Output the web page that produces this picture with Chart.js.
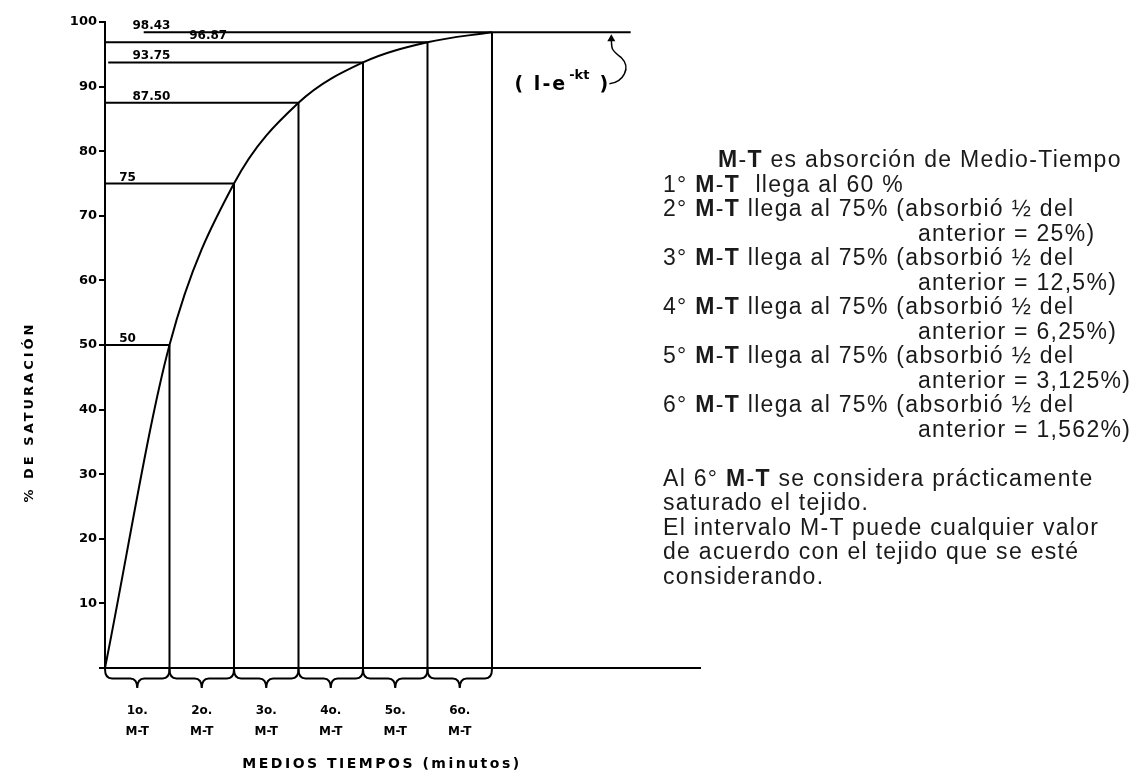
<!DOCTYPE html>
<html>
<head>
<meta charset="utf-8">
<script src="https://cdn.jsdelivr.net/npm/chart.js@4.4.0/dist/chart.umd.min.js"></script>
<style>
  html, body { margin: 0; padding: 0; background: #fff; }
  #wrap { position: relative; width: 1135px; height: 774px; overflow: hidden; }
  #chart { position: absolute; left: 0; top: 0; }
  #notes div {
    position: absolute;
    white-space: pre;
    font-family: "Liberation Sans", Arial, sans-serif;
    font-size: 23px;
    letter-spacing: 1.3px;
    line-height: 24px;
    color: #1a1a1a;
  }
</style>
</head>
<body>
<div id="wrap">
  <canvas id="chart" width="1135" height="774"></canvas>
  <div id="notes"></div>
</div>
<script>
// data
const halfTimes = [0, 1, 2, 3, 4, 5, 6];
const saturation = [0, 50, 75, 87.5, 93.75, 96.87, 98.43];
const pointLabels = ["", "50", "75", "87.50", "93.75", "96.87", "98.43"];
const yTicks = [0, 10, 20, 30, 40, 50, 60, 70, 80, 90, 100];
const intervalLabels = ["1o.", "2o.", "3o.", "4o.", "5o.", "6o."];
const intervalUnit = "M-T";

// where the guide lines start / label x (in half-time units)
const guideStart = [0, 0, 0, 0, 0.05, 0, 0.6];
const asymptoteEnd = 8.15;
const labelAt = [0, 0.35, 0.35, 0.72, 0.72, 1.6, 0.72];

const M = "<b>M</b>-<b>T</b>";
const notes = [
  [0, 718, M + " es absorción de Medio-Tiempo"],
  [1, 663, "1° " + M + "  llega al 60 %"],
  [2, 663, "2° " + M + " llega al 75% (absorbió ½ del"],
  [3, 918, "anterior = 25%)"],
  [4, 663, "3° " + M + " llega al 75% (absorbió ½ del"],
  [5, 918, "anterior = 12,5%)"],
  [6, 663, "4° " + M + " llega al 75% (absorbió ½ del"],
  [7, 918, "anterior = 6,25%)"],
  [8, 663, "5° " + M + " llega al 75% (absorbió ½ del"],
  [9, 918, "anterior = 3,125%)"],
  [10, 663, "6° " + M + " llega al 75% (absorbió ½ del"],
  [11, 918, "anterior = 1,562%)"],
  [13, 663, "Al 6° " + M + " se considera prácticamente"],
  [14, 663, "saturado el tejido."],
  [15, 663, "El intervalo M-T puede cualquier valor"],
  [16, 663, "de acuerdo con el tejido que se esté"],
  [17, 663, "considerando."]
];

const notesBox = document.getElementById("notes");
notes.forEach(([row, x, html]) => {
  const d = document.createElement("div");
  d.style.left = x + "px";
  d.style.top = (160 + row * 24.5 - 13) + "px";
  d.innerHTML = html;
  notesBox.appendChild(d);
});

const pts = halfTimes.map((t, i) => ({ x: t, y: saturation[i] }));

const guides = [];
for (let i = 1; i < halfTimes.length; i++) {
  const last = i === halfTimes.length - 1;
  guides.push({
    data: [
      { x: guideStart[i], y: saturation[i] },
      { x: last ? asymptoteEnd : halfTimes[i], y: saturation[i] }
    ]
  });
  guides.push({
    data: [
      { x: halfTimes[i], y: saturation[i] },
      { x: halfTimes[i], y: 0 }
    ]
  });
}

const bold = (size) => ({ family: "DejaVu Sans", size: size, weight: "bold" });

function brace(ctx, x1, x2, y, h) {
  const xm = (x1 + x2) / 2;
  const ym = y + h * 0.5;
  ctx.beginPath();
  ctx.moveTo(x1, y);
  ctx.quadraticCurveTo(x1, ym, x1 + 7, ym);
  ctx.lineTo(xm - 7, ym);
  ctx.quadraticCurveTo(xm, ym, xm, y + h);
  ctx.quadraticCurveTo(xm, ym, xm + 7, ym);
  ctx.lineTo(x2 - 7, ym);
  ctx.quadraticCurveTo(x2, ym, x2, y);
  ctx.stroke();
}

const extras = {
  id: "extras",
  afterDraw(chart) {
    const ctx = chart.ctx;
    const xs = chart.scales.x;
    const ys = chart.scales.y;
    ctx.save();
    ctx.strokeStyle = "#000";
    ctx.fillStyle = "#000";
    ctx.lineWidth = 2;

    // braces under each half time
    for (let i = 0; i < halfTimes.length - 1; i++) {
      brace(ctx, xs.getPixelForValue(halfTimes[i]), xs.getPixelForValue(halfTimes[i + 1]),
        ys.getPixelForValue(0) + 1, 19);
    }

    // value labels over the guide lines
    ctx.font = "bold 12px 'DejaVu Sans'";
    ctx.textAlign = "center";
    ctx.textBaseline = "alphabetic";
    for (let i = 1; i < pointLabels.length; i++) {
      ctx.fillText(pointLabels[i], xs.getPixelForValue(labelAt[i]), ys.getPixelForValue(saturation[i]) - 3);
    }

    // formula ( 1-e^-kt )
    let fx = xs.getPixelForValue(6.35);
    const fy = ys.getPixelForValue(89.5);
    ctx.textAlign = "left";
    ctx.font = "bold 19px 'DejaVu Sans'";
    ctx.letterSpacing = "2px";
    ctx.fillText("( l-e", fx, fy);
    fx += ctx.measureText("( l-e").width + 2;
    ctx.font = "bold 13px 'DejaVu Sans'";
    ctx.letterSpacing = "0px";
    ctx.fillText("-kt", fx, fy - 11);
    fx += ctx.measureText("-kt").width + 10;
    ctx.font = "bold 19px 'DejaVu Sans'";
    ctx.fillText(")", fx, fy);

    // curly pointer to the asymptote
    const ax = xs.getPixelForValue(7.85);
    const ay = ys.getPixelForValue(saturation[6]);
    ctx.lineWidth = 1.5;
    ctx.beginPath();
    ctx.moveTo(fx + 10, fy - 6);
    ctx.bezierCurveTo(fx + 24, fy - 8, fx + 32, fy - 22, fx + 22, fy - 32);
    ctx.bezierCurveTo(fx + 12, fy - 40, ax, ay + 18, ax, ay + 4);
    ctx.stroke();
    ctx.beginPath();
    ctx.moveTo(ax, ay + 2);
    ctx.lineTo(ax - 4, ay + 9);
    ctx.lineTo(ax + 4, ay + 9);
    ctx.closePath();
    ctx.fill();

    // axis titles
    ctx.font = "bold 13px 'DejaVu Sans'";
    ctx.letterSpacing = "3px";
    ctx.textAlign = "center";
    ctx.textBaseline = "middle";
    ctx.save();
    ctx.translate(30, 412);
    ctx.rotate(-Math.PI / 2);
    ctx.fillText("% DE SATURACIÓN", 0, 0);
    ctx.restore();
    ctx.font = "bold 14px 'DejaVu Sans'";
    ctx.letterSpacing = "2.5px";
    ctx.fillText("MEDIOS TIEMPOS (minutos)", 382, 764);
    ctx.restore();
  }
};

new Chart(document.getElementById("chart"), {
  type: "line",
  data: {
    datasets: [
      {
        data: pts,
        borderColor: "#000",
        borderWidth: 2,
        pointRadius: 0,
        cubicInterpolationMode: "monotone"
      },
      ...guides.map((g) => ({
        data: g.data,
        borderColor: "#000",
        borderWidth: 2,
        pointRadius: 0,
        tension: 0
      }))
    ]
  },
  options: {
    responsive: false,
    animation: false,
    devicePixelRatio: 1,
    layout: { padding: { left: 0, top: 22, right: 435, bottom: 0 } },
    plugins: { legend: { display: false }, tooltip: { enabled: false } },
    scales: {
      x: {
        type: "linear",
        min: 0,
        max: 9.225,
        afterFit: (s) => { s.height = 106; },
        afterBuildTicks: (s) => {
          s.ticks = intervalLabels.map((_, i) => ({ value: halfTimes[i] + 0.5 }));
        },
        ticks: {
          autoSkip: false,
          maxRotation: 0,
          padding: 24,
          color: "#000",
          font: { family: "DejaVu Sans", size: 12, weight: "bold", lineHeight: "21px" },
          callback: (v, i) => [intervalLabels[i], intervalUnit]
        },
        grid: { display: false },
        border: { display: true, color: "#000", width: 2 }
      },
      y: {
        min: 0,
        max: 100,
        afterFit: (s) => { s.width = 105; },
        afterBuildTicks: (s) => { s.ticks = yTicks.map((v) => ({ value: v })); },
        ticks: {
          padding: 2,
          color: "#000",
          font: bold(13),
          callback: (v) => (v === 0 ? "" : v)
        },
        grid: { display: true, drawOnChartArea: false, drawTicks: true, tickLength: 6, color: "#000", lineWidth: 2 },
        border: { display: true, color: "#000", width: 2 }
      }
    }
  },
  plugins: [extras]
});
</script>
</body>
</html>
